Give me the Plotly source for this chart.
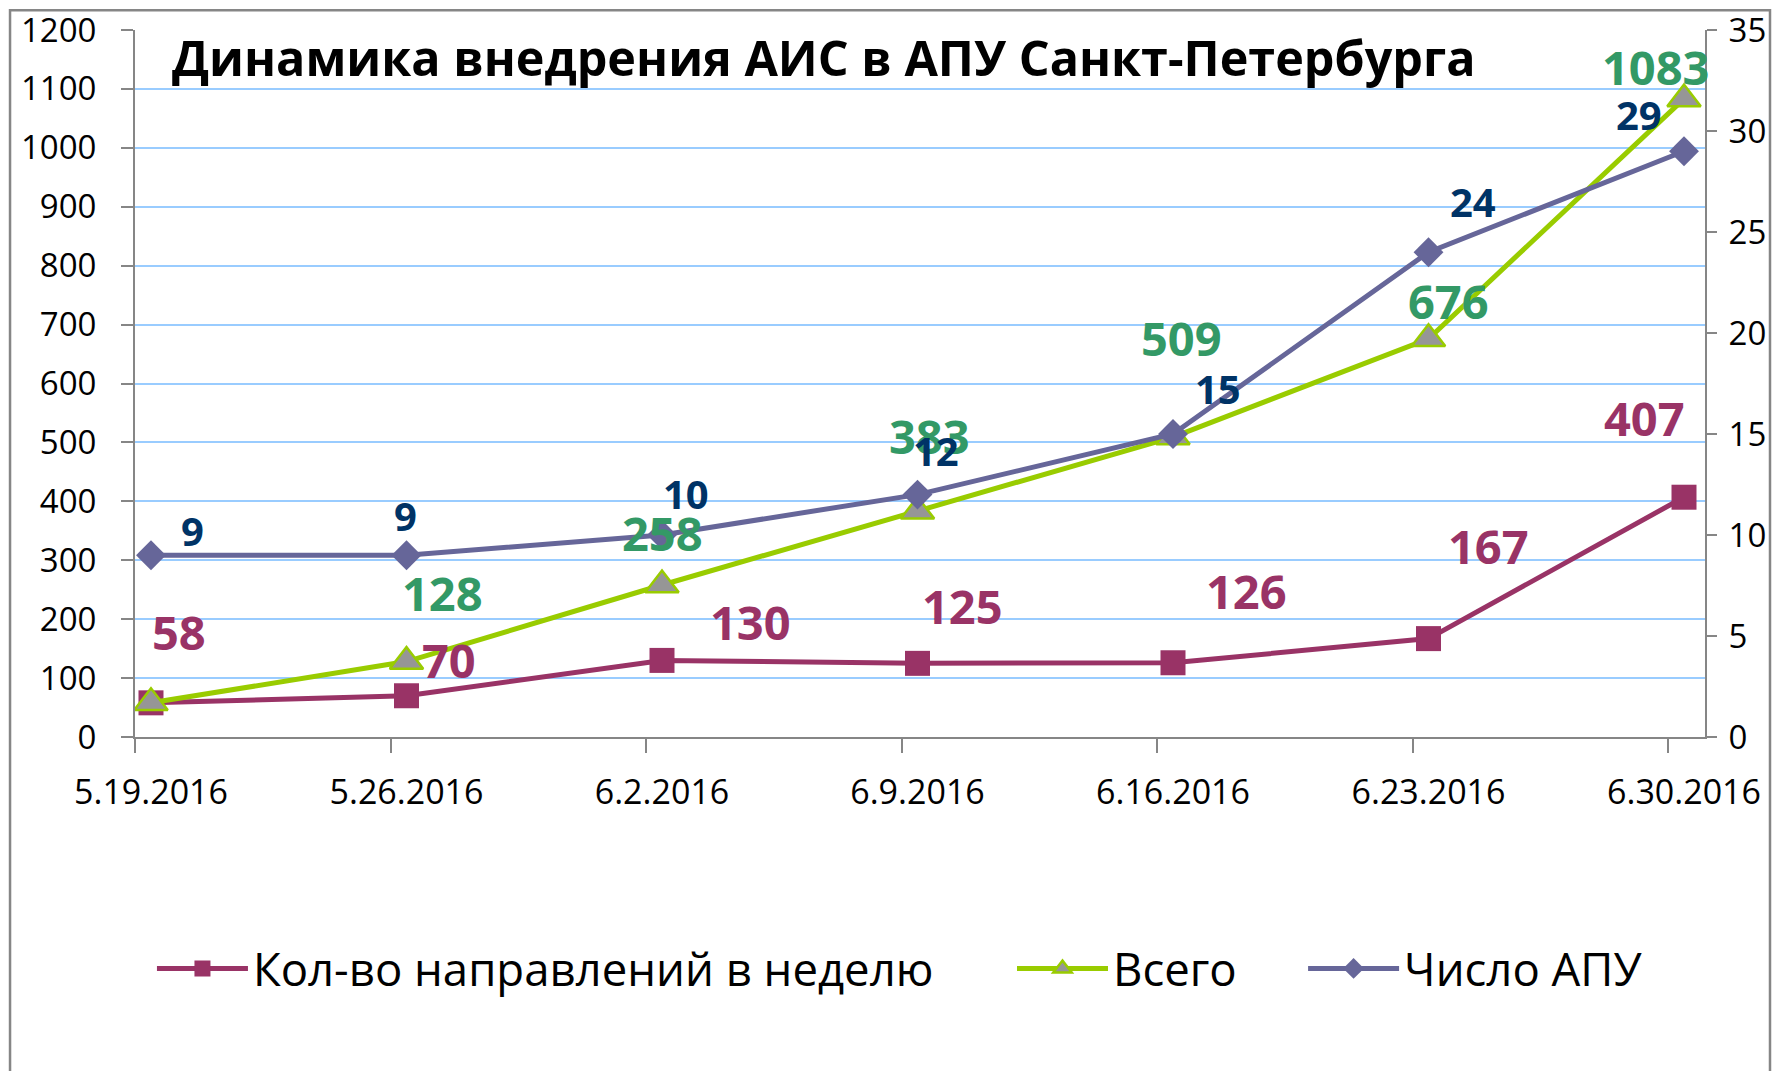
import plotly.graph_objects as go

# ---------------- data ----------------
dates = ["5.19.2016", "5.26.2016", "6.2.2016", "6.9.2016", "6.16.2016", "6.23.2016", "6.30.2016"]
weekly = [58, 70, 130, 125, 126, 167, 407]          # Кол-во направлений в неделю
total = [58, 128, 258, 383, 509, 676, 1083]         # Всего
apu = [9, 9, 10, 12, 15, 24, 29]                     # Число АПУ (right axis)

name_weekly = "Кол-во направлений в неделю"
name_total = "Всего"
name_apu = "Число АПУ"
title_text = "Динамика внедрения АИС в АПУ Санкт-Петербурга"

# ---------------- style ----------------
FONT = "Open Sans"
C_WEEK = "#993366"
C_TOT = "#99CC00"
C_APU = "#666699"
L_WEEK = "#993366"
L_TOT = "#339966"
L_APU = "#003366"
GRID = "#99CCFF"
AXIS = "#868686"

# label offsets (px) relative to each point
off_week = [(28, -71), (43, -36), (88, -38), (45, -57), (73, -72), (60, -93), (-40, -79)]
off_tot = [None, (36, -69), (0, -52), (12, -75), (8, -99), (20, -38), (-28, -32)]
off_apu = [(42, -25), (-1, -40), (24, -42), (18, -44), (45, -46), (44, -51), (-45, -37)]

x = list(range(len(dates)))
TICK_OFF = 0.0626  # tick marks sit slightly left of the points

fig = go.Figure()
fig.add_trace(go.Scatter(
    x=x, y=weekly, name=name_weekly, mode="lines+markers",
    line=dict(color=C_WEEK, width=5),
    marker=dict(symbol="square", size=25, color=C_WEEK),
    legend="legend",
))
fig.add_trace(go.Scatter(
    x=x, y=total, name=name_total, mode="lines+markers",
    line=dict(color=C_TOT, width=5),
    marker=dict(symbol="triangle-up", size=29, color="#969696",
                line=dict(color=C_TOT, width=2.5)),
    legend="legend2",
))
fig.add_trace(go.Scatter(
    x=x, y=apu, name=name_apu, mode="lines+markers", yaxis="y2",
    line=dict(color=C_APU, width=5),
    marker=dict(symbol="diamond", size=23, color=C_APU),
    legend="legend3",
))

ann = []
for i, v in enumerate(weekly):
    dx, dy = off_week[i]
    ann.append(dict(x=i, y=v, xref="x", yref="y", text=str(v), showarrow=False,
                    xshift=dx, yshift=-dy,
                    font=dict(family=FONT, size=47, color=L_WEEK, weight="bold")))
for i, v in enumerate(total):
    if off_tot[i] is None:
        continue
    dx, dy = off_tot[i]
    ann.append(dict(x=i, y=v, xref="x", yref="y", text=str(v), showarrow=False,
                    xshift=dx, yshift=-dy,
                    font=dict(family=FONT, size=47, color=L_TOT, weight="bold")))
for i, v in enumerate(apu):
    dx, dy = off_apu[i]
    ann.append(dict(x=i, y=v, xref="x", yref="y2", text=str(v), showarrow=False,
                    xshift=dx, yshift=-dy,
                    font=dict(family=FONT, size=40, color=L_APU, weight="bold")))
ann.append(dict(x=0.0223, y=0.962, xref="paper", yref="paper", xanchor="left", yanchor="middle",
                text=title_text, showarrow=False,
                font=dict(family=FONT, size=48.5, color="black", weight="bold")))

legend_common = dict(orientation="h", yanchor="middle", xanchor="left",
                     font=dict(family=FONT, size=45.5, color="black"),
                     bgcolor="rgba(0,0,0,0)", itemsizing="trace", itemwidth=91)

fig.update_layout(
    width=1773, height=1071,
    margin=dict(l=135, r=68, t=30, b=334, autoexpand=False),
    paper_bgcolor="white", plot_bgcolor="white",
    showlegend=True,
    legend=dict(x=0.0108, y=-0.328, **legend_common),
    legend2=dict(x=0.5586, y=-0.328, **legend_common),
    legend3=dict(x=0.744, y=-0.328, **legend_common),
    xaxis=dict(
        range=[-TICK_OFF, len(dates) - 1 - TICK_OFF + 0.1448],
        tickmode="array",
        tickvals=[i - TICK_OFF for i in x],
        ticktext=dates,
        ticklabelshift=16,
        ticks="outside", ticklen=14, tickwidth=2, tickcolor=AXIS,
        showline=True, linecolor=AXIS, linewidth=2,
        showgrid=False, zeroline=False, automargin=False,
        tickfont=dict(family=FONT, size=34, color="black"),
        ticklabelstandoff=10,
    ),
    yaxis=dict(
        range=[0, 1200], dtick=100,
        ticks="outside", ticklen=12, tickwidth=2, tickcolor=AXIS,
        showline=True, linecolor=AXIS, linewidth=2,
        showgrid=True, gridcolor=GRID, gridwidth=2, zeroline=False, automargin=False,
        tickfont=dict(family=FONT, size=33, color="black"),
        ticklabelstandoff=18,
    ),
    yaxis2=dict(
        range=[0, 35], dtick=5, overlaying="y", side="right",
        ticks="outside", ticklen=10, tickwidth=2, tickcolor=AXIS,
        showline=True, linecolor=AXIS, linewidth=2,
        showgrid=False, zeroline=False, automargin=False,
        tickfont=dict(family=FONT, size=33, color="black"),
        ticklabelstandoff=5,
    ),
    annotations=ann,
    shapes=[dict(type="rect", xref="paper", yref="paper",
                 x0=-0.0796, x1=1.0414, y0=-0.55, y1=1.028,
                 line=dict(color=AXIS, width=2.5), fillcolor="rgba(0,0,0,0)", layer="below")],
)

fig.write_html("out.html", config={"displayModeBar": False},
               post_script="document.body.style.margin='0';document.body.style.overflow='hidden';")
